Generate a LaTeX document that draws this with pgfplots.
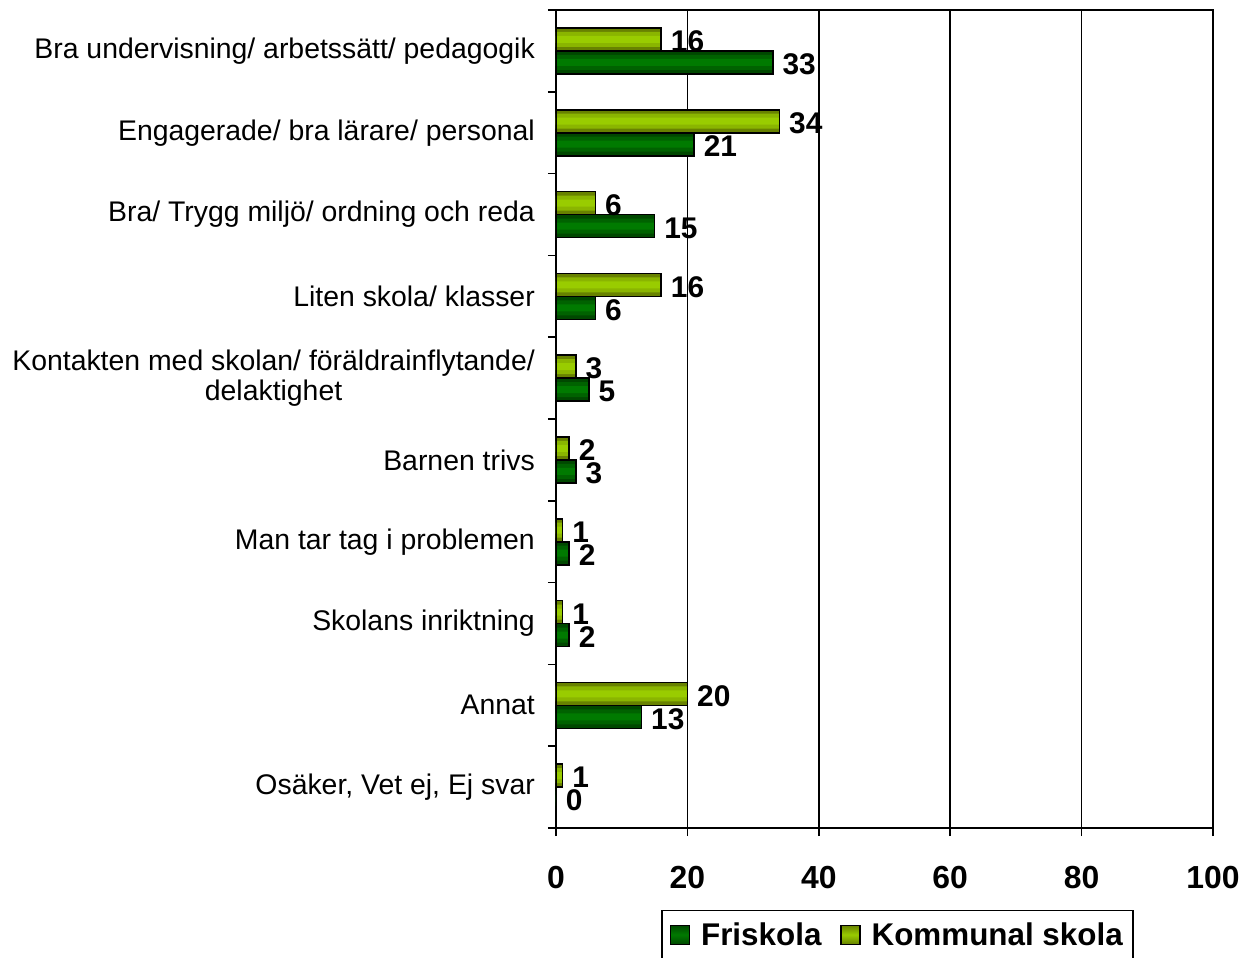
\documentclass[border=0pt]{standalone}
\usepackage{pgfplots}
\pgfplotsset{compat=1.18}
\usepackage{fontspec}
\setmainfont{Liberation Sans}
\definecolor{friA}{HTML}{004800}
\definecolor{friB}{HTML}{006200}
\definecolor{friC}{HTML}{007A00}
\definecolor{komA}{HTML}{688200}
\definecolor{komB}{HTML}{8AB500}
\definecolor{komC}{HTML}{99CC00}
\pgfplotstableread{
y fri kom
0 33 16
1 21 34
2 15 6
3 6 16
4 5 3
5 3 2
6 2 1
7 2 1
8 13 20
9 0 1
}\data
\begin{document}
\begin{tikzpicture}
\begin{axis}[
  scale only axis,
  width=657bp, height=818bp,
  xbar, y dir=reverse,
  xmin=0, xmax=100, ymin=-0.5, ymax=9.5,
  xtick={0,20,40,60,80,100},
  xmajorgrids, grid style={black, line width=1.6bp},
  axis line style={line width=1.6bp},
  tick style={black, line width=1.6bp},
  tick align=outside, xtick pos=bottom, ytick pos=left,
  major tick length=8bp,
  ytick={-0.5,0.5,...,9.5}, yticklabels={},
  extra y ticks={0,1,2,3,4,5,6,7,8,9},
  extra y tick labels={
    {Bra undervisning/ arbetssätt/ pedagogik},
    {Engagerade/ bra lärare/ personal},
    {Bra/ Trygg miljö/ ordning och reda},
    {Liten skola/ klasser},
    {Kontakten med skolan/ föräldrainflytande/\\delaktighet},
    {Barnen trivs},
    {Man tar tag i problemen},
    {Skolans inriktning},
    {Annat},
    {Osäker, Vet ej, Ej svar}},
  extra y tick style={major tick length=0pt, grid=none,
    yticklabel style={font=\fontsize{28.5}{31}\selectfont, align=center, inner sep=0pt, xshift=-21bp}},
  /pgf/number format/assume math mode=true,
  xticklabel style={font=\fontsize{32}{34}\selectfont\bfseries, inner sep=0pt, yshift=-30bp},
  bar width=23bp,
  legend columns=2,
  legend style={at={(0.160,-0.1)}, anchor=north west, draw=black, line width=1.6bp,
    font=\fontsize{31.5}{33}\selectfont\bfseries, inner xsep=8bp, inner ysep=10bp,
    /tikz/every odd column/.append style={column sep=9bp},
    /tikz/every even column/.append style={column sep=17bp}},
  legend image code/.code={\draw[#1, line width=1.2bp] (0bp,-9.5bp) rectangle (19bp,9.5bp);},
  every node near coord/.append style={font=\fontsize{30}{32}\selectfont\bfseries, inner sep=1bp, xshift=8bp, yshift=-2bp, black},
]
% legend
\addlegendimage{draw=black, top color=friA, bottom color=friA, middle color=friC}
\addlegendentry{Friskola}
\addlegendimage{draw=black, top color=komA, bottom color=komA, middle color=komC}
\addlegendentry{Kommunal skola}
% Friskola
\addplot[forget plot, draw=none, fill=friA, bar shift=-11.5bp, bar width=23bp] table[x=fri, y=y] {\data};
\addplot[forget plot, draw=none, fill=friB, bar shift=-11.5bp, bar width=15bp] table[x=fri, y=y] {\data};
\addplot[forget plot, draw=none, fill=friC, bar shift=-11.5bp, bar width=7bp] table[x=fri, y=y] {\data};
\addplot[forget plot, draw=black, fill=none, line width=1.6bp, bar shift=-11.5bp, bar width=23bp, nodes near coords] table[x=fri, y=y] {\data};
% Kommunal
\addplot[forget plot, draw=none, fill=komA, bar shift=11.5bp, bar width=23bp] table[x=kom, y=y] {\data};
\addplot[forget plot, draw=none, fill=komB, bar shift=11.5bp, bar width=15bp] table[x=kom, y=y] {\data};
\addplot[forget plot, draw=none, fill=komC, bar shift=11.5bp, bar width=7bp] table[x=kom, y=y] {\data};
\addplot[forget plot, draw=black, fill=none, line width=1.6bp, bar shift=11.5bp, bar width=23bp, nodes near coords] table[x=kom, y=y] {\data};
\end{axis}
\pgfresetboundingbox
\path (current axis.south west) ++(-556bp,-130bp) rectangle ++(1245bp,958bp);
\end{tikzpicture}
\end{document}
